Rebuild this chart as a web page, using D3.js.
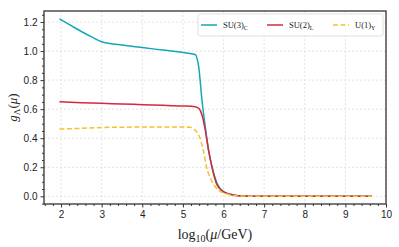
<!DOCTYPE html>
<meta charset="utf-8">
<style>
  body { margin: 0; background: #fff; }
  svg { font-family: "Liberation Serif", "DejaVu Serif", serif; }
  .grid line { stroke: #dcdcdc; stroke-width: 0.8px; stroke-dasharray: 2,2; }
  .axis path, .axis line { stroke: #333; }
  .axis text { font-size: 10px; fill: #222; }
  .line { fill: none; stroke-width: 1.5px; }
</style>
<svg width="399" height="247"></svg>
<script src="https://d3js.org/d3.v7.min.js"></script>
<script>

// series: [log10(mu/GeV), g]
var su3 = [[1.96,1.222],[2.25,1.175],[2.5,1.135],[2.75,1.098],[3.0,1.064],[3.2,1.052],[3.5,1.042],
  [4.0,1.024],[4.5,1.007],[5.0,0.990],[5.3,0.977],[5.39,0.89],[5.47,0.66],[5.55,0.48],[5.63,0.32],
  [5.72,0.20],[5.84,0.09],[6.0,0.032],[6.25,0.009],[6.5,0.002],[7,0],[8,0],[9,0],[9.65,0]];
var su2 = [[1.96,0.651],[2.5,0.645],[3,0.640],[3.5,0.636],[4,0.631],[4.5,0.627],[5,0.622],[5.3,0.617],
  [5.4,0.603],[5.47,0.56],[5.55,0.456],[5.63,0.32],[5.72,0.195],[5.84,0.078],[6.04,0.025],
  [6.3,0.006],[6.6,0.001],[7,0],[8,0],[9,0],[9.65,0]];
var u1 = [[1.96,0.463],[2.5,0.468],[3,0.474],[3.5,0.476],[4,0.477],[4.5,0.478],[5,0.478],[5.18,0.475],
  [5.3,0.455],[5.39,0.422],[5.5,0.319],[5.58,0.204],[5.7,0.112],[5.87,0.043],[6.08,0.016],
  [6.3,0.004],[6.6,0],[7,0],[8,0],[9,0],[9.65,0]];

var names = ["SU(3)", "SU(2)", "U(1)"];
var subs = ["C", "L", "Y"];
var colors = ["#14a6b6", "#d7283c", "#f2c230"];
var xTicks = [2, 3, 4, 5, 6, 7, 8, 9, 10];
var yTicks = [0, 0.2, 0.4, 0.6, 0.8, 1.0, 1.2];

var svg = d3.select("svg"),
    margin = {top: 11, right: 13, bottom: 43, left: 44},
    width = +svg.attr("width") - margin.left - margin.right,
    height = +svg.attr("height") - margin.top - margin.bottom;

var x = d3.scaleLinear().domain([1.58, 10]).range([0, width]),
    y = d3.scaleLinear().domain([-0.053, 1.276]).range([height, 0]);

var g = svg.append("g")
    .attr("transform", "translate(" + margin.left + "," + margin.top + ")");

// grid
var grid = g.append("g").attr("class", "grid");
grid.selectAll(".gx").data(xTicks).enter().append("line")
    .attr("x1", function(d) { return x(d); }).attr("x2", function(d) { return x(d); })
    .attr("y1", 0).attr("y2", height);
grid.selectAll(".gy").data(yTicks).enter().append("line")
    .attr("y1", function(d) { return y(d); }).attr("y2", function(d) { return y(d); })
    .attr("x1", 0).attr("x2", width);

// lines
var line = d3.line()
    .x(function(d) { return x(d[0]); })
    .y(function(d) { return y(d[1]); })
    .curve(d3.curveMonotoneX);

[su3, su2, u1].forEach(function(s, i) {
  g.append("path")
      .datum(s)
      .attr("class", "line")
      .attr("stroke", colors[i])
      .attr("stroke-dasharray", i == 2 ? "5,2.5" : null)
      .attr("d", line);
});

// minor ticks
var xMinor = d3.range(1.6, 10.01, 0.2).filter(function(d) { return Math.abs(d - Math.round(d)) > 0.01; });
var yMinor = d3.range(-0.05, 1.27, 0.05).filter(function(d) { return Math.abs(d * 5 - Math.round(d * 5)) > 0.01; });

g.append("g").attr("class", "axis")
    .attr("transform", "translate(0," + height + ")")
    .call(d3.axisBottom(x).tickValues(xMinor).tickSize(2).tickFormat(""))
    .call(function(a) { a.select(".domain").remove(); });
g.append("g").attr("class", "axis")
    .call(d3.axisLeft(y).tickValues(yMinor).tickSize(2).tickFormat(""))
    .call(function(a) { a.select(".domain").remove(); });

// major ticks
g.append("g").attr("class", "axis")
    .attr("transform", "translate(0," + height + ")")
    .call(d3.axisBottom(x).tickValues(xTicks).tickSize(3.5).tickPadding(3).tickFormat(d3.format("d")))
    .call(function(a) { a.select(".domain").remove(); });
g.append("g").attr("class", "axis")
    .call(d3.axisLeft(y).tickValues(yTicks).tickSize(3.5).tickPadding(3).tickFormat(d3.format(".1f")))
    .call(function(a) { a.select(".domain").remove(); });

// frame
g.append("rect")
    .attr("width", width).attr("height", height)
    .attr("fill", "none").attr("stroke", "#333").attr("stroke-width", 1.3);

// axis labels
var xl = svg.append("text")
    .attr("x", margin.left + width / 2).attr("y", 239)
    .attr("text-anchor", "middle").attr("font-size", 14).attr("fill", "#222");
xl.append("tspan").text("log");
xl.append("tspan").attr("font-size", 10).attr("dy", 3).text("10");
xl.append("tspan").attr("dy", -3).text("(");
xl.append("tspan").attr("font-style", "italic").text("μ");
xl.append("tspan").text("/GeV)");

var yl = svg.append("text")
    .attr("transform", "translate(17," + (margin.top + height / 2) + ") rotate(-90)")
    .attr("text-anchor", "middle").attr("font-size", 13).attr("fill", "#222");
yl.append("tspan").attr("font-style", "italic").text("g");
yl.append("tspan").attr("font-size", 9).attr("dy", 3).text("Λ");
yl.append("tspan").attr("dy", -3).text("(");
yl.append("tspan").attr("font-style", "italic").text("μ");
yl.append("tspan").text(")");

// legend
var leg = svg.append("g").attr("transform", "translate(198,14)");
leg.append("rect")
    .attr("width", 185).attr("height", 22).attr("rx", 2)
    .attr("fill", "#fff").attr("fill-opacity", 0.8)
    .attr("stroke", "#d8d8d8").attr("stroke-width", 0.8);
var offs = [3, 69, 135];
names.forEach(function(n, i) {
  var e = leg.append("g").attr("transform", "translate(" + offs[i] + ",11)");
  e.append("line").attr("x1", 0).attr("x2", 16)
      .attr("stroke", colors[i]).attr("stroke-width", 1.5)
      .attr("stroke-dasharray", i == 2 ? "5,2.5" : null);
  var t = e.append("text").attr("x", 22).attr("y", 3)
      .attr("font-size", 8.5).attr("fill", "#222");
  t.append("tspan").text(n);
  t.append("tspan").attr("font-size", 6).attr("dy", 2).text(subs[i]);
});

</script>
